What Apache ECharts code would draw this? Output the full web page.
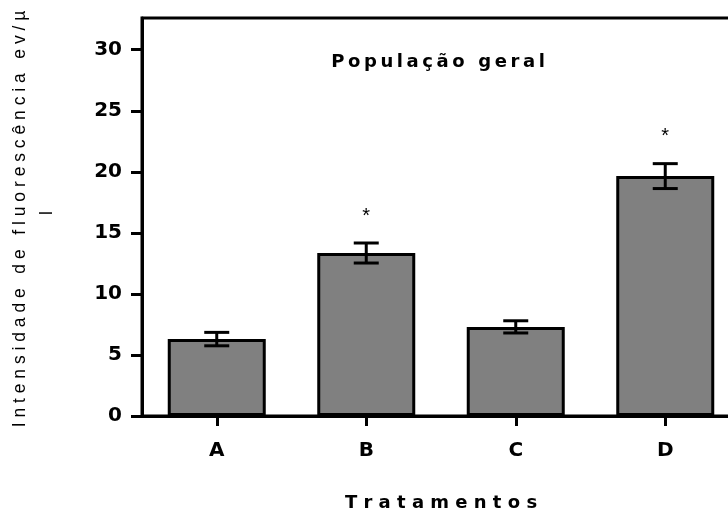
<!DOCTYPE html>
<html>
<head>
<meta charset="utf-8">
<script src="https://cdn.jsdelivr.net/npm/echarts@6/dist/echarts.min.js"></script>
<style>
  html, body { margin: 0; padding: 0; background: #fff; }
  #chart { width: 728px; height: 521px; }
</style>
</head>
<body>
<div id="chart"></div>
<script>
// Treatment groups and their mean fluorescence intensity with error (SEM)
const categories = ['A', 'B', 'C', 'D'];
const means = [6.3, 13.35, 7.3, 19.65];
const errors = [0.55, 0.82, 0.5, 1.02];
const significance = ['', '*', '', '*'];
const yTicks = [0, 5, 10, 15, 20, 25, 30];

const TS = '\u2009'; // thin space used to open up the lettering
const titleText = 'População geral'.split(' ').map(w => w.split('').join(TS)).join(' ' + TS + TS);
const xTitleText = 'T r a t a m e n t o s';
const yTitleLine1 = 'I n t e n s i d a d e   d e   f l u o r e s c ê n c i a   e v / µ';
const yTitleLine2 = 'l';

const BOLD = '"DejaVu Sans", "Liberation Sans", Arial, sans-serif';
const PLAIN = '"Liberation Sans", Arial, Helvetica, sans-serif';

const chart = echarts.init(document.getElementById('chart'), null, { renderer: 'canvas' });

const errorData = categories.map((c, i) => [i, means[i], errors[i]]);

chart.setOption({
  backgroundColor: '#fff',
  animation: false,
  grid: {
    left: 142, top: 18, width: 598, height: 398,
    outerBoundsMode: 'none',
    containLabel: false,
    show: true, borderColor: '#000', borderWidth: 3, backgroundColor: 'transparent'
  },
  xAxis: {
    type: 'category',
    data: categories,
    axisLine: { show: true, lineStyle: { color: '#000', width: 3 } },
    axisTick: { show: true, alignWithLabel: true, length: 10, lineStyle: { color: '#000', width: 3 } },
    axisLabel: { margin: 25, fontFamily: BOLD, fontSize: 20, fontWeight: 'bold', color: '#000' },
    name: xTitleText,
    nameLocation: 'middle',
    nameGap: 78,
    nameTextStyle: { fontFamily: BOLD, fontSize: 18, fontWeight: 'bold', color: '#000' }
  },
  yAxis: {
    type: 'value',
    min: 0, max: 32.6, interval: 5,
    splitLine: { show: false },
    axisLine: { show: true, lineStyle: { color: '#000', width: 3 } },
    axisTick: { show: true, length: 11, lineStyle: { color: '#000', width: 3 } },
    axisLabel: {
      margin: 20, fontFamily: BOLD, fontSize: 20, fontWeight: 'bold', color: '#000',
      showMaxLabel: false,
      formatter: v => (yTicks.indexOf(v) >= 0 ? String(v) : '')
    }
  },
  graphic: [
    {
      type: 'text', x: 438, y: 62,
      style: {
        text: titleText, fill: '#000', font: 'bold 18px ' + BOLD,
        textAlign: 'center', textVerticalAlign: 'middle'
      }
    },
    {
      type: 'text', x: 20, y: 219, rotation: Math.PI / 2,
      style: {
        text: yTitleLine1, fill: '#000', font: '17.5px ' + PLAIN,
        textAlign: 'center', textVerticalAlign: 'middle'
      }
    },
    {
      type: 'text', x: 47, y: 213, rotation: Math.PI / 2,
      style: {
        text: yTitleLine2, fill: '#000', font: '17.5px ' + PLAIN,
        textAlign: 'center', textVerticalAlign: 'middle'
      }
    }
  ],
  series: [
    {
      type: 'bar',
      data: means,
      barWidth: 98,
      itemStyle: { color: '#808080', borderColor: '#000', borderWidth: 3 },
      z: 2
    },
    {
      type: 'custom',
      data: errorData,
      z: 3,
      renderItem: function (params, api) {
        const i = api.value(0);
        const m = api.value(1);
        const e = api.value(2);
        const star = significance[params.dataIndex];
        const top = api.coord([i, m + e]);
        const bot = api.coord([i, m - e]);
        const half = 12.5;
        const style = { stroke: '#000', lineWidth: 3 };
        const children = [
          { type: 'line', shape: { x1: top[0], y1: top[1], x2: bot[0], y2: bot[1] }, style: style },
          { type: 'line', shape: { x1: top[0] - half, y1: top[1], x2: top[0] + half, y2: top[1] }, style: style },
          { type: 'line', shape: { x1: bot[0] - half, y1: bot[1], x2: bot[0] + half, y2: bot[1] }, style: style }
        ];
        if (star) {
          children.push({
            type: 'text',
            x: top[0], y: top[1] - 27,
            style: {
              text: star, fill: '#000', font: '20px ' + PLAIN,
              textAlign: 'center', textVerticalAlign: 'middle'
            }
          });
        }
        return { type: 'group', children: children };
      }
    }
  ]
});
</script>
</body>
</html>
